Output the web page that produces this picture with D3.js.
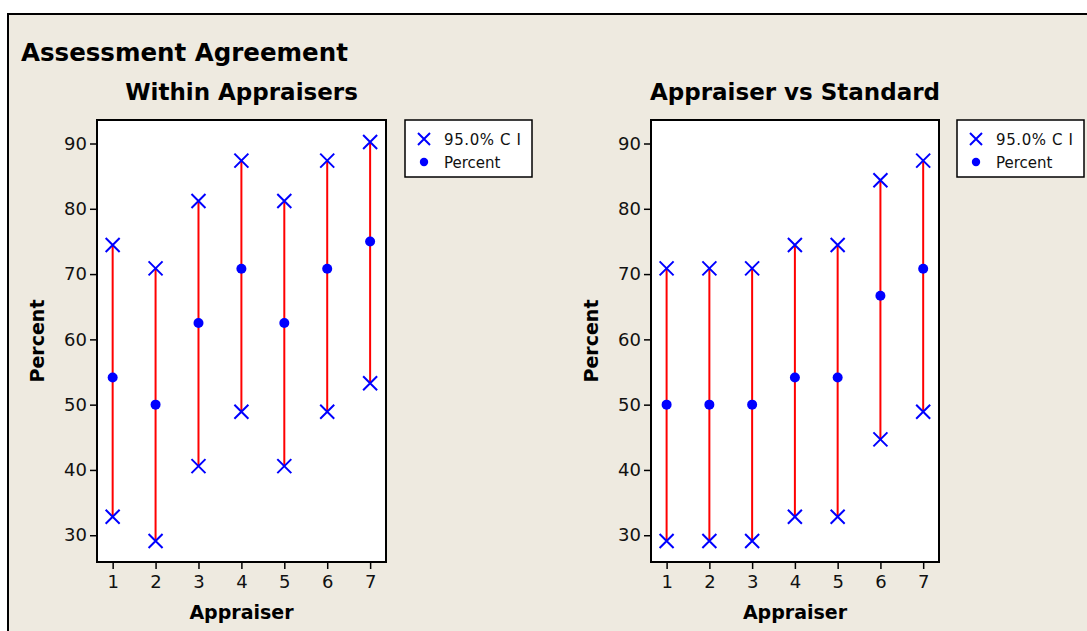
<!DOCTYPE html>
<html>
<head>
<meta charset="utf-8">
<script src="https://cdn.jsdelivr.net/npm/d3@7"></script>
<style>
  body { margin: 0; background: #fff; }
  svg { display: block; font-family: "DejaVu Sans", sans-serif; }
</style>
</head>
<body>
<svg id="chart" width="1087" height="631"></svg>
<script>
// appraiser numbers on the x axis
var appraisers = [1, 2, 3, 4, 5, 6, 7];
var yTicks = [30, 40, 50, 60, 70, 80, 90];

// Within Appraisers
var withinPct   = [54.17, 50.00, 62.50, 70.83, 62.50, 70.83, 75.00];
var withinLower = [32.82, 29.12, 40.59, 48.91, 40.59, 48.91, 53.29];
var withinUpper = [74.45, 70.88, 81.20, 87.38, 81.20, 87.38, 90.23];

// Appraiser vs Standard
var stdPct   = [50.00, 50.00, 50.00, 54.17, 54.17, 66.67, 70.83];
var stdLower = [29.12, 29.12, 29.12, 32.82, 32.82, 44.68, 48.91];
var stdUpper = [70.88, 70.88, 70.88, 74.45, 74.45, 84.37, 87.38];

var legendLabels = ["95.0% C I", "Percent"];

var svg = d3.select("#chart");

// outer frame (runs off the right and bottom of the picture)
svg.append("rect")
  .attr("x", 8).attr("y", 14)
  .attr("width", 1100).attr("height", 700)
  .attr("fill", "#eeeae0")
  .attr("stroke", "#000")
  .attr("stroke-width", 2);

svg.append("text")
  .attr("x", 21).attr("y", 61)
  .attr("font-size", 24.5).attr("font-weight", "bold")
  .attr("fill", "#000")
  .text("Assessment Agreement");

function drawPanel(opt) {
  var x = d3.scaleLinear().domain([0.635, 7.37]).range([opt.left, opt.right]);
  var y = d3.scaleLinear().domain([25.9, 93.6]).range([562, 120]);
  var g = svg.append("g");

  g.append("rect")
    .attr("x", opt.left).attr("y", 120)
    .attr("width", opt.right - opt.left).attr("height", 442)
    .attr("fill", "#fff");

  // axes
  var ya = g.append("g")
    .attr("transform", "translate(" + opt.left + ",0)")
    .call(d3.axisLeft(y).tickValues(yTicks).tickSize(7).tickSizeOuter(0).tickPadding(3));
  var xa = g.append("g")
    .attr("transform", "translate(0,562)")
    .call(d3.axisBottom(x).tickValues(appraisers).tickFormat(d3.format("d"))
      .tickSize(7).tickSizeOuter(0).tickPadding(6));
  [ya, xa].forEach(function(a) {
    a.select(".domain").remove();
    a.selectAll("line").attr("stroke", "#000").attr("stroke-width", 1.5);
    a.selectAll("text").attr("font-size", 18).attr("fill", "#111")
      .attr("font-family", "DejaVu Sans, sans-serif");
  });

  // interval lines
  g.selectAll("line.ci")
    .data(appraisers)
    .enter().append("line")
    .attr("class", "ci")
    .attr("x1", function(d) { return x(d); })
    .attr("x2", function(d) { return x(d); })
    .attr("y1", function(d, i) { return y(opt.lower[i]); })
    .attr("y2", function(d, i) { return y(opt.upper[i]); })
    .attr("stroke", "#ff0000")
    .attr("stroke-width", 2);

  // CI end markers
  var ends = [];
  appraisers.forEach(function(d, i) {
    ends.push({ x: d, y: opt.lower[i] });
    ends.push({ x: d, y: opt.upper[i] });
  });
  g.selectAll("path.cross")
    .data(ends)
    .enter().append("path")
    .attr("class", "cross")
    .attr("d", function(d) {
      var cx = x(d.x), cy = y(d.y), s = 7;
      return "M" + (cx - s) + "," + (cy - s) + "L" + (cx + s) + "," + (cy + s) +
             "M" + (cx + s) + "," + (cy - s) + "L" + (cx - s) + "," + (cy + s);
    })
    .attr("stroke", "#0000ff")
    .attr("stroke-width", 2)
    .attr("fill", "none");

  g.selectAll("circle.pct")
    .data(appraisers)
    .enter().append("circle")
    .attr("class", "pct")
    .attr("cx", function(d) { return x(d); })
    .attr("cy", function(d, i) { return y(opt.pct[i]); })
    .attr("r", 5)
    .attr("fill", "#0000ff");

  // plot frame
  g.append("rect")
    .attr("x", opt.left).attr("y", 120)
    .attr("width", opt.right - opt.left).attr("height", 442)
    .attr("fill", "none")
    .attr("stroke", "#000")
    .attr("stroke-width", 2);

  // titles
  g.append("text")
    .attr("x", (opt.left + opt.right) / 2).attr("y", 100)
    .attr("text-anchor", "middle")
    .attr("font-size", 23).attr("font-weight", "bold")
    .text(opt.title);
  g.append("text")
    .attr("x", (opt.left + opt.right) / 2).attr("y", 619)
    .attr("text-anchor", "middle")
    .attr("font-size", 19).attr("font-weight", "bold")
    .text("Appraiser");
  g.append("text")
    .attr("transform", "translate(" + (opt.left - 53) + ",341) rotate(-90)")
    .attr("text-anchor", "middle")
    .attr("font-size", 19).attr("font-weight", "bold")
    .text("Percent");

  // legend
  var lg = g.append("g").attr("transform", "translate(" + opt.legendX + ",120)");
  lg.append("rect")
    .attr("width", 127).attr("height", 57)
    .attr("fill", "#fff")
    .attr("stroke", "#000")
    .attr("stroke-width", 1.5);
  lg.append("path")
    .attr("d", "M13,13L25,25M25,13L13,25")
    .attr("stroke", "#0000ff").attr("stroke-width", 2);
  lg.append("circle")
    .attr("cx", 19).attr("cy", 42).attr("r", 4.2)
    .attr("fill", "#0000ff");
  lg.selectAll("text")
    .data(legendLabels)
    .enter().append("text")
    .attr("x", 39)
    .attr("y", function(d, i) { return 24.5 + i * 23; })
    .attr("font-size", 15)
    .attr("letter-spacing", function(d, i) { return i === 0 ? 0.6 : 0; })
    .attr("fill", "#111")
    .text(function(d) { return d; });
}

drawPanel({ left: 97, right: 386, legendX: 405, title: "Within Appraisers",
            pct: withinPct, lower: withinLower, upper: withinUpper });
drawPanel({ left: 651, right: 939, legendX: 957, title: "Appraiser vs Standard",
            pct: stdPct, lower: stdLower, upper: stdUpper });
</script>
</body>
</html>
